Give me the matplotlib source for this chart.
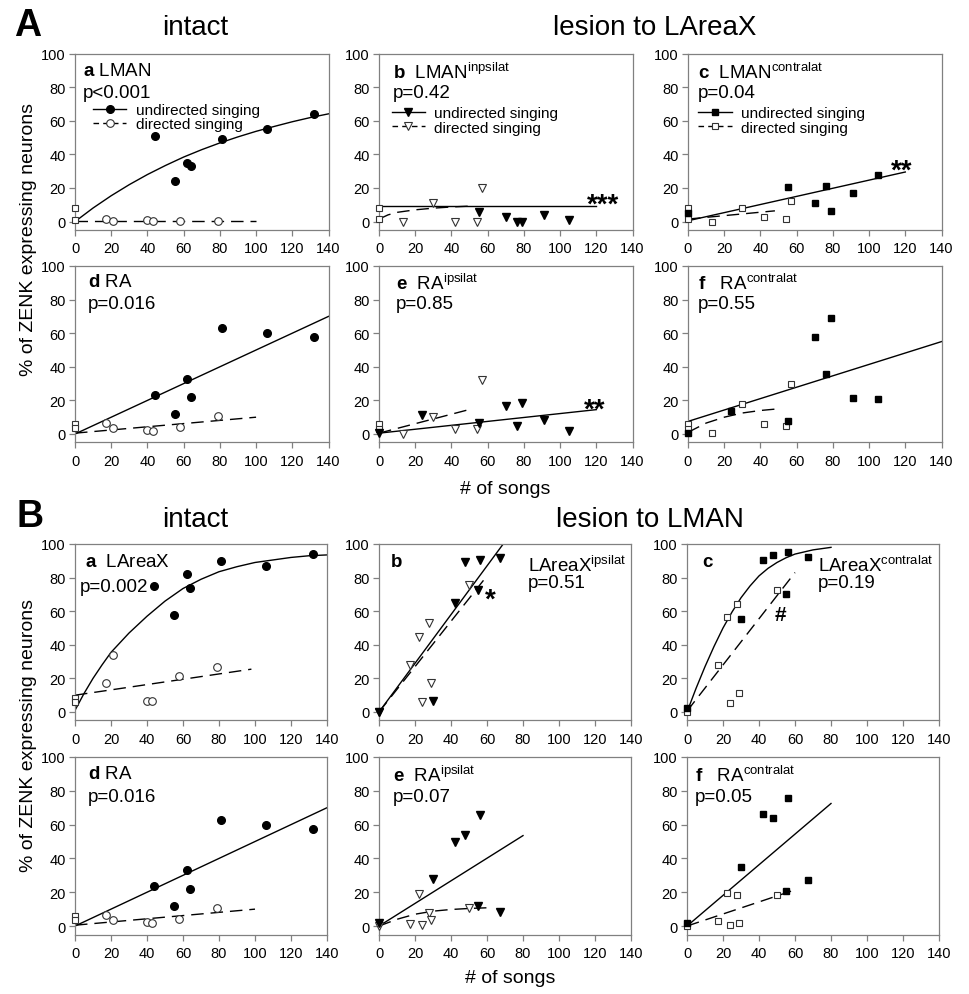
import matplotlib
matplotlib.use('Agg')
import matplotlib.pyplot as plt
from matplotlib.lines import Line2D

plt.rcParams['font.family'] = ['Liberation Sans', 'DejaVu Sans']
plt.rcParams['mathtext.fontset'] = 'custom'
plt.rcParams['mathtext.rm'] = 'Liberation Sans'
plt.rcParams['mathtext.bf'] = 'Liberation Sans:bold'

# ---------------- data ----------------
# non-singing controls (open squares at 0 songs)
ctrl_x = [0, 0]

# A a: LMAN, intact
lman_ctrl_y = [8, 1]
lman_und_x = [44, 55, 62, 64, 81, 106, 132]
lman_und_y = [51, 24, 35, 33, 49, 55, 64]
lman_dir_x = [17, 21, 40, 43, 58, 79]
lman_dir_y = [1.5, 0.5, 1, 0.5, 0.5, 0.5]
lman_und_fit_x = [0, 10, 20, 30, 40, 50, 60, 70, 80, 90, 100, 110, 120, 130, 140]
lman_und_fit_y = [0, 8.1, 15.4, 22, 28, 33.4, 38.4, 42.8, 46.8, 50.4, 53.7, 56.6, 59.4, 61.9, 64.1]
lman_dir_fit_x = [0, 100]
lman_dir_fit_y = [0.5, 0.5]

# A b: LMAN ipsilateral, lesion to LAreaX
lmani_ctrl_y = [8, 1.5]
lmani_und_x = [55, 70, 76, 79, 91, 105]
lmani_und_y = [6, 3, 0, 0, 4, 1]
lmani_dir_x = [13, 30, 42, 54, 57]
lmani_dir_y = [0, 11, 0, 0, 20]
lmani_und_fit_x = [0, 120]
lmani_und_fit_y = [9.5, 9.5]
lmani_dir_fit_x = [0, 5, 10, 20, 30, 40, 50]
lmani_dir_fit_y = [1.5, 4, 5.5, 7, 8, 8.7, 9.2]

# A c: LMAN contralateral, lesion to LAreaX
lmanc_ctrl_y = [7.8, 1.4]
lmanc_und_x = [0, 55, 70, 76, 79, 91, 105]
lmanc_und_y = [4.9, 20.5, 11, 21, 6.5, 17, 28]
lmanc_dir_x = [13, 30, 42, 54, 57]
lmanc_dir_y = [0, 8, 3, 1.5, 12]
lmanc_und_fit_x = [0, 120]
lmanc_und_fit_y = [0.5, 29.5]
lmanc_dir_fit_x = [0, 48]
lmanc_dir_fit_y = [1.5, 6.4]

# A d / B d: RA, intact
ra_ctrl_y = [6, 3.5]
ra_und_x = [44, 55, 62, 64, 81, 106, 132]
ra_und_y = [23.5, 12, 33, 22, 63, 60, 57.5]
ra_dir_x = [17, 21, 40, 43, 58, 79]
ra_dir_y = [6.5, 3.5, 2.5, 2, 4, 10.5]
ra_und_fit_x = [0, 140]
ra_und_fit_y = [0, 70]
ra_dir_fit_x = [0, 100]
ra_dir_fit_y = [0.5, 10]

# A e: RA ipsilateral, lesion to LAreaX
rai_ctrl_y = [6, 3]
rai_und_x = [0, 24, 55, 70, 76, 79, 91, 105]
rai_und_y = [0.4, 11.6, 6.6, 16.6, 5, 18.6, 8.6, 2]
rai_dir_x = [13, 30, 42, 54, 57]
rai_dir_y = [0, 10, 3, 3, 32.4]
rai_und_fit_x = [0, 120]
rai_und_fit_y = [0.5, 14.5]
rai_dir_fit_x = [0, 50]
rai_dir_fit_y = [0.5, 14.6]

# A f: RA contralateral, lesion to LAreaX
raf_ctrl_y = [6, 3]
raf_und_x = [0, 24, 55, 70, 76, 79, 91, 105]
raf_und_y = [0.6, 13.6, 8, 57.6, 36, 69, 21.6, 21]
raf_dir_x = [13, 30, 42, 54, 57]
raf_dir_y = [0.6, 18, 6, 5, 29.6]
raf_und_fit_x = [0, 140]
raf_und_fit_y = [7.5, 55]
raf_dir_fit_x = [0, 10, 20, 30, 40, 50]
raf_dir_fit_y = [1, 6.5, 10, 12.5, 14, 15]

# B a: LAreaX, intact
xa_ctrl_y = [8.5, 5.9]
xa_und_x = [44, 55, 62, 64, 81, 106, 132]
xa_und_y = [75, 57.5, 82, 74, 90, 87, 94]
xa_dir_x = [17, 21, 40, 43, 58, 79]
xa_dir_y = [17, 34, 6.3, 6.7, 21.7, 27]
xa_und_fit_x = [0, 5, 10, 15, 20, 30, 40, 50, 60, 70, 80, 90, 100, 110, 120, 130, 140]
xa_und_fit_y = [1, 11, 20, 28, 35.5, 47, 57, 66, 73.5, 79, 83.5, 86.5, 89, 90.5, 92, 93, 93.5]
xa_dir_fit_x = [0, 98]
xa_dir_fit_y = [10, 25.5]

# B b: LAreaX ipsilateral, lesion to LMAN
xi_und_x = [0, 30, 42, 48, 55, 56, 67]
xi_und_y = [0, 6.5, 65, 89.5, 72.5, 90.5, 91.5]
xi_dir_x = [0, 17, 22, 24, 28, 29, 50]
xi_dir_y = [0, 28, 44.5, 6, 53, 17.5, 75.5]
xi_und_fit_x = [0, 69]
xi_und_fit_y = [0, 100]
xi_dir_fit_x = [0, 60]
xi_dir_fit_y = [0, 81]

# B c: LAreaX contralateral, lesion to LMAN
xc_und_x = [0, 30, 42, 48, 55, 56, 67]
xc_und_y = [2.4, 55.5, 90.5, 93.5, 70, 95, 92]
xc_dir_x = [0, 17, 22, 24, 28, 29, 50]
xc_dir_y = [0, 28, 56.5, 5.5, 64, 11.5, 72.5]
xc_und_fit_x = [0, 5, 10, 15, 20, 25, 30, 35, 40, 45, 50, 55, 60, 70, 80]
xc_und_fit_y = [0, 14, 27, 39, 50, 59.5, 68, 75, 81, 85.5, 89, 91.8, 94, 96.5, 98]
xc_dir_fit_x = [0, 60]
xc_dir_fit_y = [0.5, 83]

# B e: RA ipsilateral, lesion to LMAN
ri_und_x = [0, 30, 42, 48, 55, 56, 67]
ri_und_y = [2, 28, 50, 54, 12, 65.5, 8.3]
ri_dir_x = [0, 17, 22, 24, 28, 29, 50]
ri_dir_y = [0, 1.4, 18.8, 0.8, 7.7, 3.4, 10.5]
ri_und_fit_x = [0, 80]
ri_und_fit_y = [0, 53.5]
ri_dir_fit_x = [0, 10, 20, 30, 40, 50, 60]
ri_dir_fit_y = [0, 4, 7, 8.8, 9.8, 10.4, 10.8]

# B f: RA contralateral, lesion to LMAN
rc_und_x = [0, 30, 42, 48, 55, 56, 67]
rc_und_y = [2, 34.7, 66.3, 63.8, 20.8, 75.8, 27.1]
rc_dir_x = [0, 17, 22, 24, 28, 29, 50]
rc_dir_y = [0, 2.8, 19.6, 0.4, 18.2, 2, 18.2]
rc_und_fit_x = [0, 80]
rc_und_fit_y = [0, 72.5]
rc_dir_fit_x = [0, 60]
rc_dir_fit_y = [0, 21.4]

xticks = [0, 20, 40, 60, 80, 100, 120, 140]
yticks = [0, 20, 40, 60, 80, 100]

W, H = 969, 995
GRAY = '#808080'
DASH = (9, 5)

fig = plt.figure(figsize=(W / 100, H / 100), dpi=100)


def add_ax(left, top, w, h):
    ax = fig.add_axes([left / W, 1 - (top + h) / H, w / W, h / H])
    ax.set_xlim(0, 140)
    ax.set_ylim(-5, 100)
    ax.set_xticks(xticks)
    ax.set_yticks(yticks)
    for s in ax.spines.values():
        s.set_color(GRAY)
        s.set_linewidth(0.9)
    ax.tick_params(direction='out', length=4, width=0.9, color=GRAY, labelsize=10.5)
    ax.tick_params(axis='x', pad=4)
    ax.tick_params(axis='y', pad=2.5)
    return ax


def draw(ax, ux, uy, dx, dy, ufx, ufy, dfx, dfy, mk, ms, cy=None):
    ax.plot(ufx, ufy, color='k', lw=1)
    ax.plot(dfx, dfy, color='k', lw=1, dashes=DASH)
    ax.plot(dx, dy, ls='none', marker=mk, ms=ms, mfc='white', mec='#333333', mew=0.8, clip_on=False, zorder=3)
    ax.plot(ux, uy, ls='none', marker=mk, ms=ms, mfc='k', mec='k', clip_on=False, zorder=4)
    if cy is not None:
        ax.plot(ctrl_x, cy, ls='none', marker='s', ms=4.5, mfc='white', mec='#333333', mew=0.8, clip_on=False, zorder=3)


def label(ax, x, y, s, size=13.5):
    ax.text(x, y, s, transform=ax.transAxes, fontsize=size, ha='left', va='center')


def legend(ax, mk, ms, x, y):
    h1 = Line2D([], [], color='k', lw=1, marker=mk, ms=ms, mfc='k', mec='k')
    h2 = Line2D([], [], color='k', lw=1, dashes=(4, 3), marker=mk, ms=ms, mfc='white', mec='#333333', mew=0.8)
    ax.legend([h1, h2], ['undirected singing', 'directed singing'], loc='upper left',
              bbox_to_anchor=(x, y), frameon=False, fontsize=11, handlelength=2.2,
              handletextpad=0.6, labelspacing=0.02, borderpad=0, borderaxespad=0)


# ---------------- panel A ----------------
aa = add_ax(75, 54.5, 253.5, 176.5)
ab = add_ax(379, 54.5, 253.5, 176.5)
ac = add_ax(688, 54.5, 253.5, 176.5)
ad = add_ax(75, 267, 253.5, 176.4)
ae = add_ax(379, 267, 253.5, 176.4)
af = add_ax(688, 267, 253.5, 176.4)

draw(aa, lman_und_x, lman_und_y, lman_dir_x, lman_dir_y, lman_und_fit_x, lman_und_fit_y,
     lman_dir_fit_x, lman_dir_fit_y, 'o', 5.5, lman_ctrl_y)
draw(ab, lmani_und_x, lmani_und_y, lmani_dir_x, lmani_dir_y, lmani_und_fit_x, lmani_und_fit_y,
     lmani_dir_fit_x, lmani_dir_fit_y, 'v', 5.5, lmani_ctrl_y)
draw(ac, lmanc_und_x, lmanc_und_y, lmanc_dir_x, lmanc_dir_y, lmanc_und_fit_x, lmanc_und_fit_y,
     lmanc_dir_fit_x, lmanc_dir_fit_y, 's', 4.8, lmanc_ctrl_y)
draw(ad, ra_und_x, ra_und_y, ra_dir_x, ra_dir_y, ra_und_fit_x, ra_und_fit_y,
     ra_dir_fit_x, ra_dir_fit_y, 'o', 5.5, ra_ctrl_y)
draw(ae, rai_und_x, rai_und_y, rai_dir_x, rai_dir_y, rai_und_fit_x, rai_und_fit_y,
     rai_dir_fit_x, rai_dir_fit_y, 'v', 5.5, rai_ctrl_y)
draw(af, raf_und_x, raf_und_y, raf_dir_x, raf_dir_y, raf_und_fit_x, raf_und_fit_y,
     raf_dir_fit_x, raf_dir_fit_y, 's', 4.8, raf_ctrl_y)

label(aa, 0.03, 0.905, r'$\mathbf{a}$ LMAN')
label(aa, 0.03, 0.78, 'p<0.001')
label(ab, 0.055, 0.895, r'$\mathbf{b}$  LMAN$^{\mathrm{inpsilat}}$')
label(ab, 0.055, 0.78, 'p=0.42')
label(ac, 0.04, 0.895, r'$\mathbf{c}$  LMAN$^{\mathrm{contralat}}$')
label(ac, 0.04, 0.78, 'p=0.04')
label(ad, 0.05, 0.91, r'$\mathbf{d}$ RA')
label(ad, 0.05, 0.785, 'p=0.016')
label(ae, 0.067, 0.905, r'$\mathbf{e}$  RA$^{\mathrm{ipsilat}}$')
label(ae, 0.067, 0.785, 'p=0.85')
label(af, 0.04, 0.905, r'$\mathbf{f}$   RA$^{\mathrm{contralat}}$')
label(af, 0.04, 0.785, 'p=0.55')

legend(aa, 'o', 5.5, 0.07, 0.72)
legend(ab, 'v', 5.5, 0.05, 0.70)
legend(ac, 's', 4.8, 0.04, 0.70)

ab.text(124, 6, '***', fontsize=20, fontweight='bold', ha='center', va='baseline')
ac.text(118, 26, '**', fontsize=20, fontweight='bold', ha='center', va='baseline')
ae.text(119, 10.5, '**', fontsize=20, fontweight='bold', ha='center', va='baseline')

# ---------------- panel B ----------------
ba = add_ax(75, 545, 252, 176.4)
bb = add_ax(379, 545, 252, 176.4)
bc = add_ax(687, 545, 252, 176.4)
bd = add_ax(75, 758, 252, 177.5)
be = add_ax(379, 758, 252, 177.5)
bf = add_ax(687, 758, 252, 177.5)

draw(ba, xa_und_x, xa_und_y, xa_dir_x, xa_dir_y, xa_und_fit_x, xa_und_fit_y,
     xa_dir_fit_x, xa_dir_fit_y, 'o', 5.5, xa_ctrl_y)
draw(bb, xi_und_x, xi_und_y, xi_dir_x, xi_dir_y, xi_und_fit_x, xi_und_fit_y,
     xi_dir_fit_x, xi_dir_fit_y, 'v', 5.5)
draw(bc, xc_und_x, xc_und_y, xc_dir_x, xc_dir_y, xc_und_fit_x, xc_und_fit_y,
     xc_dir_fit_x, xc_dir_fit_y, 's', 4.8)
draw(bd, ra_und_x, ra_und_y, ra_dir_x, ra_dir_y, ra_und_fit_x, ra_und_fit_y,
     ra_dir_fit_x, ra_dir_fit_y, 'o', 5.5, ra_ctrl_y)
draw(be, ri_und_x, ri_und_y, ri_dir_x, ri_dir_y, ri_und_fit_x, ri_und_fit_y,
     ri_dir_fit_x, ri_dir_fit_y, 'v', 5.5)
draw(bf, rc_und_x, rc_und_y, rc_dir_x, rc_dir_y, rc_und_fit_x, rc_und_fit_y,
     rc_dir_fit_x, rc_dir_fit_y, 's', 4.8)

label(ba, 0.04, 0.9, r'$\mathbf{a}$  LAreaX')
label(ba, 0.02, 0.76, 'p=0.002')
label(bb, 0.043, 0.9, r'$\mathbf{b}$')
label(bb, 0.59, 0.885, r'LAreaX$^{\mathrm{ipsilat}}$')
label(bb, 0.59, 0.78, 'p=0.51')
label(bc, 0.06, 0.9, r'$\mathbf{c}$')
label(bc, 0.52, 0.885, r'LAreaX$^{\mathrm{contralat}}$')
label(bc, 0.52, 0.78, 'p=0.19')
label(bd, 0.05, 0.905, r'$\mathbf{d}$ RA')
label(bd, 0.05, 0.78, 'p=0.016')
label(be, 0.055, 0.9, r'$\mathbf{e}$  RA$^{\mathrm{ipsilat}}$')
label(be, 0.055, 0.78, 'p=0.07')
label(bf, 0.03, 0.9, r'$\mathbf{f}$   RA$^{\mathrm{contralat}}$')
label(bf, 0.03, 0.78, 'p=0.05')

bb.text(61.7, 63, '*', fontsize=20, fontweight='bold', ha='center', va='baseline')
bc.text(51.8, 55, '#', fontsize=15, fontweight='bold', ha='center', va='baseline')

# ---------------- figure texts ----------------
fig.text(28 / W, 1 - 26 / H, 'A', fontsize=27, fontweight='bold', ha='center', va='center')
fig.text(30 / W, 1 - 517 / H, 'B', fontsize=27, fontweight='bold', ha='center', va='center')
fig.text(195 / W, 1 - 28 / H, 'intact', fontsize=20, ha='center', va='center')
fig.text(655 / W, 1 - 28 / H, 'lesion to LAreaX', fontsize=20, ha='center', va='center')
fig.text(195 / W, 1 - 520 / H, 'intact', fontsize=20, ha='center', va='center')
fig.text(650 / W, 1 - 520 / H, 'lesion to LMAN', fontsize=20, ha='center', va='center')
fig.text(505 / W, 1 - 490 / H, '# of songs', fontsize=14, ha='center', va='center')
fig.text(510 / W, 1 - 979 / H, '# of songs', fontsize=14, ha='center', va='center')
fig.text(29 / W, 1 - 240 / H, '% of ZENK expressing neurons', fontsize=14, rotation=90, ha='center', va='center')
fig.text(29 / W, 1 - 736 / H, '% of ZENK expressing neurons', fontsize=14, rotation=90, ha='center', va='center')

fig.savefig('out.png', dpi=100)
